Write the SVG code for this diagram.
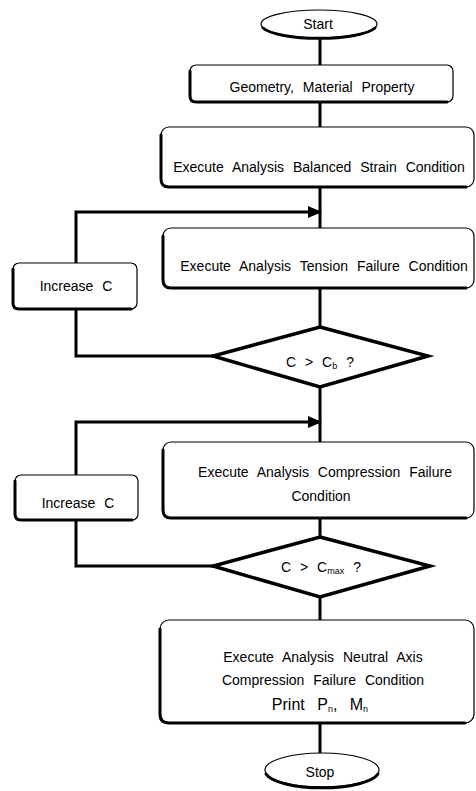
<svg xmlns="http://www.w3.org/2000/svg" width="476" height="791" viewBox="0 0 476 791">
<style>
.box{fill:#fff;stroke:#000;stroke-width:1.2}
.sh{fill:none;stroke:#000;stroke-width:3;stroke-linecap:round}
.dia{fill:#fff;stroke:#000;stroke-width:3.5;stroke-linejoin:miter}
.con{fill:none;stroke:#000;stroke-width:3}
text{font-family:"Liberation Sans",Arial,sans-serif;font-size:14px;fill:#000;text-anchor:middle;word-spacing:5px}
.sub{font-size:9px}
</style>
<defs>
<marker id="arr" markerWidth="14" markerHeight="12" refX="13" refY="6" orient="auto" markerUnits="userSpaceOnUse">
<path d="M0,0 L14,6 L0,12 Z" fill="#000"/>
</marker>
</defs>
<g id="connectors">
<path class="con" d="M320,38 V65 M320,102 V127 M320,187 V228 M320,288 V327 M320,387 V442 M320,518 V537 M320,597 V620 M320,723 V753"/>
<path class="con" d="M213,356 H76 V212 H321" marker-end="url(#arr)"/>
<path class="con" d="M213,566 H76 V422 H321" marker-end="url(#arr)"/>
</g>
<g id="start">
<ellipse class="box" cx="319" cy="24" rx="58" ry="14"/>
<path class="sh" d="M263,28 A58,14 0 0 0 375,28"/>
<text x="318" y="29">Start</text>
</g>
<g id="geometry">
<rect class="box" x="190" y="65" width="263" height="37" rx="6"/>
<path class="sh" d="M190,71 V96 Q190,102 196,102 H447"/>
<text x="322" y="92">Geometry, Material Property</text>
</g>
<g id="balanced">
<rect class="box" x="161" y="127" width="313" height="60" rx="8"/>
<path class="sh" d="M161,135 V179 Q161,187 169,187 H466"/>
<text x="319" y="172">Execute Analysis Balanced Strain Condition</text>
</g>
<g id="tension">
<rect class="box" x="163" y="228" width="311" height="60" rx="8"/>
<path class="sh" d="M163,236 V280 Q163,288 171,288 H466"/>
<text x="324" y="271">Execute Analysis Tension Failure Condition</text>
</g>
<g id="increase1">
<rect class="box" x="13" y="263" width="124" height="46" rx="6"/>
<path class="sh" d="M13,269 V303 Q13,309 19,309 H131"/>
<text x="76" y="291">Increase C</text>
</g>
<g id="decision1">
<polygon class="dia" points="320,327 428,356 320,387 213,356"/>
<text x="320" y="367">C &gt; C<tspan class="sub" dy="2">b</tspan><tspan dy="-2"> ?</tspan></text>
</g>
<g id="compression">
<rect class="box" x="163" y="442" width="311" height="76" rx="8"/>
<path class="sh" d="M163,450 V510 Q163,518 171,518 H466"/>
<text x="325" y="477">Execute Analysis Compression Failure</text>
<text x="321" y="501">Condition</text>
</g>
<g id="increase2">
<rect class="box" x="15" y="475" width="123" height="45" rx="6"/>
<path class="sh" d="M15,481 V514 Q15,520 21,520 H132"/>
<text x="78" y="508">Increase C</text>
</g>
<g id="decision2">
<polygon class="dia" points="320,537 430,566 320,597 213,566"/>
<text x="321" y="572">C &gt; C<tspan class="sub" dy="2">max</tspan><tspan dy="-2"> ?</tspan></text>
</g>
<g id="final">
<rect class="box" x="160" y="620" width="314" height="103" rx="9"/>
<path class="sh" d="M160,629 V714 Q160,723 169,723 H465"/>
<text x="323" y="662">Execute Analysis Neutral Axis</text>
<text x="323" y="685">Compression Failure Condition</text>
<text x="320" y="710" style="font-size:16px;word-spacing:8px">Print P<tspan class="sub" dy="2">n</tspan><tspan dy="-2">, M</tspan><tspan class="sub" dy="2">n</tspan></text>
</g>
<g id="stop">
<ellipse class="box" cx="322" cy="770" rx="57" ry="17"/>
<path class="sh" d="M266,774 A57,17 0 0 0 378,774"/>
<text x="320" y="777">Stop</text>
</g>
</svg>
